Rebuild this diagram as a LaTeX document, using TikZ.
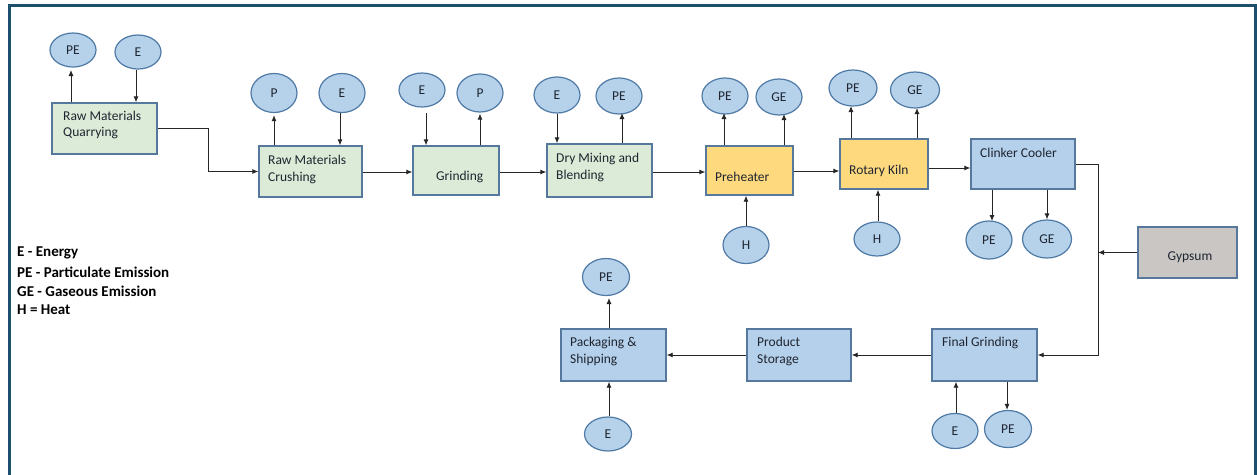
\documentclass[tikz,border=0pt]{standalone}
\usepackage{fontspec}
\setmainfont{Carlito}
\usetikzlibrary{arrows.meta,calc,shapes.geometric}
\definecolor{frame}{HTML}{1B4F6B}
\definecolor{bord}{HTML}{55789C}
\definecolor{gfill}{HTML}{DCEBD7}
\definecolor{yfill}{HTML}{FFD97E}
\definecolor{bfill}{HTML}{B5D0EA}
\definecolor{grfill}{HTML}{C9C6C4}
\definecolor{efill}{HTML}{B6D2EB}
\definecolor{ebord}{HTML}{4E7AA5}
\definecolor{txt}{HTML}{1E2530}
\tikzset{
  box/.style={draw=bord, line width=1.4pt, rectangle, inner sep=0pt},
  gbox/.style={box, fill=gfill},
  ybox/.style={box, fill=yfill},
  bbox/.style={box, fill=bfill},
  grbox/.style={box, fill=grfill},
  ell/.style={draw=ebord, line width=1.2pt, ellipse, fill=efill, minimum width=46pt, minimum height=36pt, inner sep=0pt, font=\fontsize{13.5}{15}\selectfont, text=txt},
  lbl/.style={anchor=west, align=left, inner sep=0pt, font=\fontsize{13.5}{16.5}\selectfont, text=txt},
  arr/.style={draw=black!85, line width=0.9pt, -{Latex[length=6pt,width=5pt]}},
  leg/.style={anchor=west, inner sep=0pt, font=\bfseries\fontsize{15}{17}\selectfont}
}
\begin{document}
\begin{tikzpicture}[x=1pt,y=-1pt]
\useasboundingbox (0,0) rectangle (1257,474);
\fill[white] (0,0) rectangle (1257,474);
\draw[frame, line width=3pt] (9,476) -- (9,5) -- (1255,5) -- (1255,476);

% process boxes
\node[gbox, minimum width=105pt, minimum height=51pt] (q) at (104.5,128.5) {};
\node[gbox, minimum width=103pt, minimum height=51pt] (c) at (310.5,171.5) {};
\node[gbox, minimum width=86pt, minimum height=49pt] (g) at (456,170.5) {};
\node[gbox, minimum width=105pt, minimum height=53pt] (d) at (599.5,170.5) {};
\node[ybox, minimum width=87pt, minimum height=49pt] (p) at (749.5,170.5) {};
\node[ybox, minimum width=88pt, minimum height=50pt] (k) at (884,164) {};
\node[bbox, minimum width=104pt, minimum height=50pt] (cc) at (1023,164) {};
\node[grbox, minimum width=99pt, minimum height=51pt] (gy) at (1187.5,252.5) {};
\node[bbox, minimum width=105pt, minimum height=52pt] (fg) at (984.5,355) {};
\node[bbox, minimum width=104pt, minimum height=52pt] (ps) at (799,355) {};
\node[bbox, minimum width=105pt, minimum height=52pt] (pk) at (613.5,355) {};

% box texts
\node[lbl] (tq) at (63,125) {Raw Materials\\ Quarrying};
\node[lbl] (tc) at (268,169.5) {Raw Materials\\Crushing};
\node[lbl] (tg) at (436,177) {Grinding};
\node[lbl] (td) at (556,167.5) {Dry Mixing and\\Blending};
\node[lbl] (tp) at (715,177) {Preheater};
\node[lbl] (tk) at (849,171) {Rotary Kiln};
\node[lbl] (tcc) at (980,153) {Clinker Cooler};
\node[lbl, anchor=center] (tgy) at (1190,257) {Gypsum};
\node[lbl] (tfg) at (942,343) {Final Grinding};
\node[lbl] (tps) at (757,351.5) {Product\\Storage};
\node[lbl] (tpk) at (570,351.5) {Packaging \&\\Shipping};

% ellipses
\node[ell, minimum height=34pt] (qpe) at (73,50) {PE};
\node[ell, minimum height=34pt] (qe) at (138,52) {E};
\node[ell, minimum height=39pt] (cp) at (274,93) {P};
\node[ell, minimum height=39pt] (ce) at (342,93) {E};
\node[ell, minimum height=34pt] (ge) at (422,90) {E};
\node[ell, minimum height=38pt] (gp) at (480,93) {P};
\node[ell] (de) at (557,95) {E};
\node[ell] (dpe) at (619,96) {PE};
\node[ell] (ppe) at (725,96) {PE};
\node[ell] (pge) at (779,97) {GE};
\node[ell, minimum height=37pt] (ph) at (746,245) {H};
\node[ell, minimum width=48pt] (kpe) at (853,88) {PE};
\node[ell, minimum width=49pt] (kge) at (915,90) {GE};
\node[ell, minimum height=34pt] (kh) at (877,239) {H};
\node[ell, minimum height=38pt] (ccpe) at (989,240) {PE};
\node[ell, minimum width=49pt, minimum height=38pt] (ccge) at (1047,239) {GE};
\node[ell, minimum width=47pt, minimum height=37pt] (pkpe) at (606,277) {PE};
\node[ell, minimum width=47pt, minimum height=34pt] (pke) at (608,434) {E};
\node[ell, minimum height=35pt] (fge) at (955,431) {E};
\node[ell, minimum width=47pt, minimum height=37pt] (fgpe) at (1008,429) {PE};

% legend
\node[leg] (l1) at (17,253) {E - Energy};
\node[leg] (l2) at (17,272) {PE - Particulate Emission};
\node[leg] (l3) at (17,291) {GE - Gaseous Emission};
\node[leg] (l4) at (17,310) {H = Heat};

% main flow
\draw[arr] (q.east) -- (208,128.5) |- (c.west);
\draw[arr] (c.east |- 0,172) -- (g.west |- 0,172);
\draw[arr] (g.east |- 0,172) -- (d.west |- 0,172);
\draw[arr] (d.east |- 0,172) -- (p.west |- 0,172);
\draw[arr] (p.east |- 0,171) -- (k.west |- 0,171);
\draw[arr] (k.east |- 0,168) -- (cc.west |- 0,168);
\coordinate (j1) at (1098,164);
\coordinate (j2) at (1098,252.5);
\draw[arr] (cc.east |- j1) -- (j1) -- (1098,355) -- (fg.east);
\draw[arr] (gy.west) -- (j2);
\draw[arr] (fg.west) -- (ps.east);
\draw[arr] (ps.west) -- (pk.east);

% side flows
\draw[arr] (q.north -| 71,0) -- (71,70);
\draw[arr] (qe.south -| 136,0) -- (q.north -| 136,0);
\draw[arr] (c.north -| cp) -- ($(cp.south)+(0,2)$);
\draw[arr] (ce.south -| 340,0) -- (c.north -| 340,0);
\draw[arr] (426,113) -- (g.north -| 426,0);
\draw[arr] (g.north -| gp) -- ($(gp.south)+(0,1)$);
\draw[arr] (de.south) -- (d.north -| de);
\draw[arr] (d.north -| 622,0) -- (622,113);
\draw[arr] (p.north -| 724,0) -- (724,113);
\draw[arr] (p.north -| 784,0) -- (784,114);
\draw[arr] (ph.north) -- (p.south -| ph);
\draw[arr] (k.north -| 851,0) -- (851,106);
\draw[arr] (k.north -| 917,0) -- (917,108);
\draw[arr] (kh.north -| 878,0) -- (k.south -| 878,0);
\draw[arr] (cc.south -| 992,0) -- (992,221);
\draw[arr] (cc.south -| 1047,0) -- (ccge.north);
\draw[arr] (pk.north -| 609,0) -- (609,298);
\draw[arr] (pke.north -| 609,0) -- (pk.south -| 609,0);
\draw[arr] (fge.north -| 956,0) -- (fg.south -| 956,0);
\draw[arr] (fg.south -| 1007,0) -- (fgpe.north -| 1007,0);
\end{tikzpicture}
\end{document}
